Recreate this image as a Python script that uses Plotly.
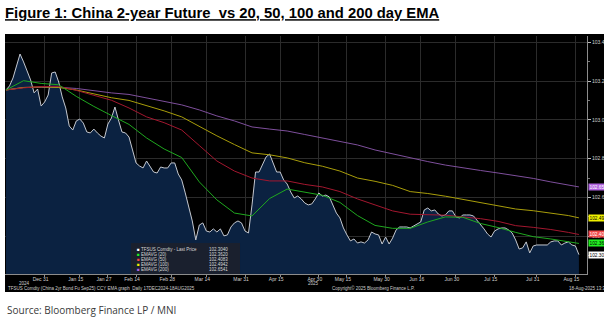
import plotly.graph_objects as go

# ---------------- data ----------------
tick_idx = [11, 21, 29, 37, 47, 57, 68, 78, 89, 97, 108, 118, 128, 139, 151, 162]
tick_labels = ["Dec 31", "Jan 15", "Jan 27", "Feb 14", "Feb 28", "Mar 14", "Mar 31", "Apr 15",
               "Apr 30", "May 15", "May 30", "Jun 16", "Jun 30", "Jul 15", "Jul 31", "Aug 15"]
year_labels = [("2024", 11), ("2025", 89)]

price = [
    103.155, 103.176, 103.217, 103.284, 103.341, 103.300, 103.258, 103.207, 103.140, 103.160,
    103.072, 103.093, 103.129, 103.243, 103.248, 103.196, 103.119, 103.062, 102.969, 102.948,
    102.995, 103.005, 102.984, 102.938, 102.933, 102.953, 102.933, 102.917, 102.907, 102.979,
    103.010, 103.067, 103.000, 102.938, 102.933, 102.912, 102.845, 102.778, 102.762, 102.752,
    102.788, 102.757, 102.731, 102.726, 102.757, 102.752, 102.752, 102.778, 102.778, 102.721,
    102.690, 102.623, 102.550, 102.478, 102.380, 102.457, 102.468, 102.426, 102.421, 102.437,
    102.421, 102.437, 102.401, 102.406, 102.447, 102.468, 102.478, 102.468, 102.426, 102.416,
    102.561, 102.731, 102.731, 102.773, 102.809, 102.824, 102.773, 102.731, 102.731, 102.690,
    102.669, 102.628,
    102.597, 102.607, 102.592, 102.571, 102.561, 102.566, 102.592, 102.623, 102.607, 102.612,
    102.602, 102.556, 102.519, 102.494, 102.442, 102.406, 102.375, 102.385, 102.364, 102.370,
    102.364, 102.380, 102.421, 102.411, 102.406, 102.359, 102.395, 102.359, 102.390, 102.432,
    102.447, 102.447, 102.447, 102.442, 102.452, 102.463, 102.473, 102.535, 102.545, 102.530,
    102.535, 102.514, 102.504, 102.509, 102.530, 102.530, 102.499, 102.494, 102.509, 102.509,
    102.509, 102.504, 102.483, 102.463, 102.437, 102.411, 102.395, 102.426, 102.437, 102.442,
    102.442, 102.432, 102.416, 102.380, 102.333, 102.339, 102.370, 102.313, 102.349, 102.354,
    102.354, 102.354, 102.354, 102.370, 102.375, 102.375, 102.354, 102.364, 102.370, 102.354,
    102.349, 102.304,
]

ema_idx = list(range(0, 161, 5)) + [163]
ema20 = [103.155, 103.203, 103.189, 103.182, 103.122, 103.070, 103.023, 102.977, 102.907, 102.850,
         102.806, 102.680, 102.587, 102.519, 102.504, 102.594, 102.643, 102.628, 102.611, 102.574,
         102.506, 102.455, 102.440, 102.440, 102.473, 102.499, 102.497, 102.465, 102.444, 102.419,
         102.397, 102.385, 102.372, 102.3620]
ema50 = [103.155, 103.166, 103.173, 103.174, 103.153, 103.129, 103.102, 103.062, 103.016, 102.986,
         102.948, 102.868, 102.788, 102.736, 102.700, 102.685, 102.685, 102.667, 102.654, 102.630,
         102.592, 102.561, 102.530, 102.513, 102.509, 102.508, 102.499, 102.490, 102.476, 102.454,
         102.445, 102.434, 102.419, 102.4083]
ema100 = [103.155, 103.168, 103.171, 103.168, 103.155, 103.134, 103.115, 103.101, 103.075, 103.047,
          103.016, 102.965, 102.918, 102.873, 102.830, 102.820, 102.804, 102.779, 102.761, 102.736,
          102.700, 102.683, 102.662, 102.630, 102.620, 102.606, 102.590, 102.574, 102.555, 102.540,
          102.531, 102.520, 102.506, 102.4942]
ema200 = [103.155, 103.168, 103.169, 103.169, 103.163, 103.150, 103.140, 103.132, 103.114, 103.096,
          103.078, 103.052, 103.021, 102.995, 102.964, 102.953, 102.943, 102.925, 102.907, 102.891,
          102.871, 102.845, 102.824, 102.804, 102.785, 102.767, 102.752, 102.739, 102.726, 102.713,
          102.698, 102.680, 102.664, 102.6541]

x_price = list(range(len(price)))

# ---------------- styles ----------------
C_PRICE = "#c4c8d0"
C_FILL = "#0b2241"
C_G, C_R, C_Y, C_P = "#1fa81f", "#a3172f", "#a89d0a", "#7e4f9c"
M_W, M_G, M_R, M_Y, M_P = "#ffffff", "#22f022", "#f04848", "#f0f000", "#b063e0"
SMALL = "Liberation Sans"

fig = go.Figure()
fig.add_trace(go.Scatter(x=x_price, y=price, mode="lines", fill="tozeroy",
                         fillcolor=C_FILL, line=dict(color=C_PRICE, width=1), hoverinfo="skip"))
for ys, col in [(ema200, C_P), (ema100, C_Y), (ema50, C_R), (ema20, C_G)]:
    fig.add_trace(go.Scatter(x=ema_idx, y=ys, mode="lines",
                             line=dict(color=col, width=1), hoverinfo="skip"))

annotations = []
# right-hand value markers
for ys, bg, fc in [(ema200, M_P, "white"), (ema100, M_Y, "black"), (ema50, M_R, "white"),
                   (ema20, M_G, "black"), (price, M_W, "black")]:
    annotations.append(dict(xref="paper", yref="y", x=1, y=ys[-1], xanchor="left", yanchor="middle",
                            xshift=1, text=f"{ys[-1]:.4f}", showarrow=False, bgcolor=bg,
                            borderpad=0.5, font=dict(family=SMALL, size=4.8, color=fc)))

# legend box content
legend_rows = [("TFSUS Comdty - Last Price", M_W, price[-1]), ("EMAVG (20)", M_G, ema20[-1]),
               ("EMAVG (50)", M_R, ema50[-1]), ("EMAVG (100)", M_Y, ema100[-1]),
               ("EMAVG (200)", M_P, ema200[-1])]
row_y = [0.105, 0.084, 0.063, 0.042, 0.021]
for (name, col, val), yy in zip(legend_rows, row_y):
    annotations.append(dict(xref="paper", yref="paper", x=0.2235, y=yy, xanchor="left", yanchor="middle",
                            text=f'<span style="color:{col}">■</span> {name}', showarrow=False,
                            font=dict(family=SMALL, size=4.5, color="#d8d8d8")))
    annotations.append(dict(xref="paper", yref="paper", x=0.347, y=yy, xanchor="left", yanchor="middle",
                            text=f"{val:.4f}", showarrow=False,
                            font=dict(family=SMALL, size=4.5, color="#d8d8d8")))

for yl, xi in year_labels:
    annotations.append(dict(xref="x", yref="paper", x=xi, y=-0.041, xanchor="center", yanchor="middle",
                            xshift=-20 if yl == "2024" else -5, text=yl, showarrow=False,
                            font=dict(family=SMALL, size=4.5, color="#cfcfcf")))

annotations += [
    dict(xref="paper", yref="paper", x=0.001, y=-0.059, xanchor="left", yanchor="middle",
         text="TFSUS Comdty (China 2yr Bond Fu Sep25) CCY EMA graph  Daily 17DEC2024-18AUG2025",
         showarrow=False, font=dict(family=SMALL, size=4.5, color="#cfcfcf")),
    dict(xref="paper", yref="paper", x=0.558, y=-0.059, xanchor="left", yanchor="middle",
         text="Copyright© 2025 Bloomberg Finance L.P.", showarrow=False,
         font=dict(family=SMALL, size=4.5, color="#cfcfcf")),
    dict(xref="paper", yref="paper", x=0.966, y=-0.059, xanchor="left", yanchor="middle",
         text="18-Aug-2025 13:35:24", showarrow=False, font=dict(family=SMALL, size=4.5, color="#cfcfcf")),
    dict(xref="paper", yref="paper", x=0.0, y=-0.152, xanchor="left", yanchor="middle",
         text="Source: Bloomberg Finance LP / MNI", showarrow=False,
         font=dict(family="Open Sans", size=10, color="#3a3a3a")),
]

shapes = [
    dict(type="rect", xref="paper", yref="paper", x0=0, x1=1.05, y0=-0.076, y1=1.0085,
         fillcolor="black", line=dict(width=0), layer="below"),
    dict(type="rect", xref="paper", yref="paper", x0=0.2165, x1=0.4038, y0=0.0, y1=0.13,
         fillcolor="rgba(28,33,44,0.92)", line=dict(width=0), layer="above"),
]

fig.update_layout(
    width=604, height=322, margin=dict(l=5, r=17, t=36, b=48),
    paper_bgcolor="white", plot_bgcolor="black", showlegend=False,
    title=dict(text="<b>Figure 1: China 2-year Future\u00a0 vs 20, 50, 100 and 200 day EMA</b>",
               xref="container", yref="container", x=5 / 604, xanchor="left",
               y=1 - 13 / 322, yanchor="middle",
               font=dict(family="Liberation Sans", size=14.8, color="black", lineposition="under")),
    annotations=annotations, shapes=shapes,
    xaxis=dict(range=[-0.28, 165.3], tickvals=tick_idx, ticktext=tick_labels, showgrid=True,
               gridcolor="#2b2b2b", gridwidth=1, zeroline=False, showline=True, linecolor="#8c8c8c",
               ticks="outside", ticklen=2, tickcolor="#8c8c8c", ticklabelshift=-4,
               ticklabelstandoff=-2,
               tickfont=dict(family=SMALL, size=5, color="#cfcfcf"), automargin=False),
    yaxis=dict(side="right", range=[102.204, 103.434], tickvals=[102.2, 102.4, 102.6, 102.8, 103.0, 103.2, 103.4],
               tickformat=".3f", showgrid=True, gridcolor="#2b2b2b", zeroline=False, showline=True,
               linecolor="#8c8c8c", ticks="outside", ticklen=3, tickcolor="#bbbbbb",
               minor=dict(tickvals=[102.3, 102.5, 102.7, 102.9, 103.1, 103.3], ticks="outside",
                          ticklen=2, tickcolor="#777777", showgrid=False),
               tickfont=dict(family=SMALL, size=5, color="#cfcfcf"), automargin=False),
)

fig.write_html("out.html")
